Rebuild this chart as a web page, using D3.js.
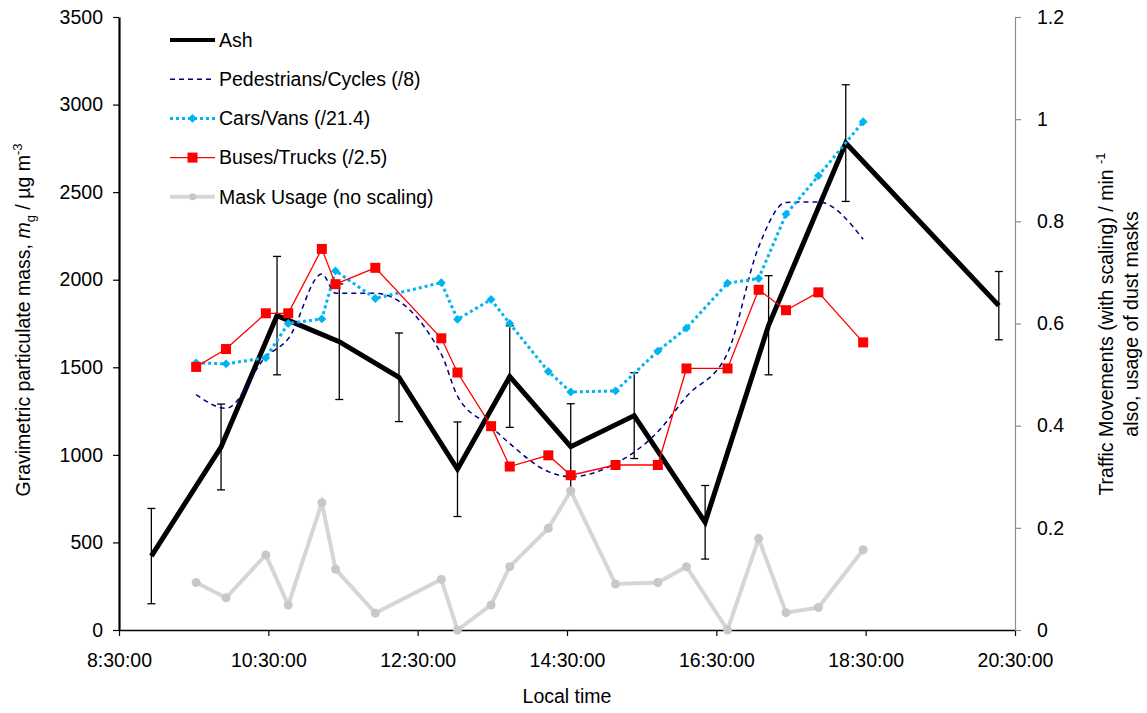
<!DOCTYPE html>
<html>
<head>
<meta charset="utf-8">
<script src="https://cdn.jsdelivr.net/npm/d3@7"></script>
<style>
  html, body { margin: 0; padding: 0; background: #fff; }
  svg { display: block; font-family: "Liberation Sans", Arial, sans-serif; }
</style>
</head>
<body>
<svg id="chart" width="1147" height="713"></svg>
<script>
// Ash sampling times, gravimetric mass (µg m-3) and error half-widths
const ashTimes = ["8:56","9:52","10:37","11:27","12:15","13:02","13:44","14:33","15:24","16:21","17:12","18:14","20:17"];
const ashMass  = [422, 1045, 1795, 1646, 1443, 918, 1447, 1047, 1224, 615, 1740, 2780, 1852];
const ashErr   = [272, 245, 338, 330, 253, 270, 290, 245, 245, 210, 283, 333, 195];

// Traffic count times and scaled movement rates (per minute)
const trafficTimes = ["9:32","9:56","10:28","10:46","11:13","11:24","11:56","12:49","13:02","13:29","13:44",
                      "14:15","14:33","15:09","15:43","16:06","16:39","17:04","17:26","17:52","18:28"];
const pedestrians = [0.461, 0.434, 0.535, 0.570, 0.697, 0.659, 0.659, 0.540, 0.458, 0.398, 0.365,
                     0.310, 0.300, 0.326, 0.388, 0.457, 0.542, 0.750, 0.837, 0.838, 0.765];
const cars        = [0.523, 0.521, 0.533, 0.600, 0.609, 0.703, 0.649, 0.680, 0.608, 0.647, 0.600,
                     0.506, 0.466, 0.468, 0.546, 0.591, 0.679, 0.688, 0.814, 0.889, 0.995];
const buses       = [0.515, 0.550, 0.620, 0.620, 0.746, 0.677, 0.709, 0.571, 0.504, 0.399, 0.320,
                     0.342, 0.303, 0.323, 0.323, 0.512, 0.512, 0.666, 0.626, 0.661, 0.563];
const masks       = [0.093, 0.063, 0.147, 0.049, 0.249, 0.119, 0.033, 0.099, 0.000, 0.049, 0.124,
                     0.199, 0.272, 0.090, 0.093, 0.124, 0.000, 0.179, 0.034, 0.044, 0.157];

// Axis ticks
const timeTicks  = ["8:30","10:30","12:30","14:30","16:30","18:30","20:30"];
const leftTicks  = [0, 500, 1000, 1500, 2000, 2500, 3000, 3500];
const rightTicks = [0, 0.2, 0.4, 0.6, 0.8, 1, 1.2];

const parseT = s => { const [h, m] = s.split(":").map(Number); return new Date(2000, 0, 1, h, m); };

const svg = d3.select("#chart");
const L = 119, R = 1015, T = 17, B = 630;
const FONT = 19.5;

const x  = d3.scaleTime().domain([parseT("8:30"), parseT("20:30")]).range([L, R]);
const yL = d3.scaleLinear().domain([0, 3500]).range([B, T]);
const yR = d3.scaleLinear().domain([0, 1.2]).range([B, T]);

// Axes
const xAxis = d3.axisBottom(x).tickValues(timeTicks.map(parseT))
  .tickFormat(d3.timeFormat("%-H:%M:%S")).tickSize(6).tickSizeOuter(0);
const gx = svg.append("g").attr("transform", `translate(0,${B})`).call(xAxis);
gx.select(".domain").attr("stroke", "#000").attr("stroke-width", 1.5);
gx.selectAll(".tick line").attr("stroke", "#000").attr("stroke-width", 1.2);
gx.selectAll(".tick text").attr("font-size", FONT).attr("fill", "#000").attr("dy", "1.45em")
  .attr("font-family", "Liberation Sans, Arial, sans-serif");

const gl = svg.append("g").attr("transform", `translate(${L},0)`)
  .call(d3.axisLeft(yL).tickValues(leftTicks).tickFormat(d3.format("d")).tickSize(6).tickSizeOuter(0));
gl.select(".domain").attr("stroke", "#000").attr("stroke-width", 2.2);
gl.selectAll(".tick line").attr("stroke", "#000").attr("stroke-width", 1.2);
gl.selectAll(".tick text").attr("font-size", FONT).attr("fill", "#000").attr("x", -16)
  .attr("font-family", "Liberation Sans, Arial, sans-serif");

const gr = svg.append("g").attr("transform", `translate(${R},0)`)
  .call(d3.axisRight(yR).tickValues(rightTicks).tickFormat(d => d3.format("~g")(d)).tickSize(6).tickSizeOuter(0));
gr.select(".domain").attr("stroke", "#8c8c8c").attr("stroke-width", 1.2);
gr.selectAll(".tick line").attr("stroke", "#8c8c8c").attr("stroke-width", 1.2);
gr.selectAll(".tick text").attr("font-size", FONT).attr("fill", "#000").attr("x", 22)
  .attr("font-family", "Liberation Sans, Arial, sans-serif");

// Axis titles
svg.append("text").attr("x", 567).attr("y", 703).attr("text-anchor", "middle")
  .attr("font-size", FONT).text("Local time");

const lt = svg.append("text").attr("transform", "translate(30,320) rotate(-90)")
  .attr("text-anchor", "middle").attr("font-size", FONT);
lt.append("tspan").text("Gravimetric particulate mass, ");
lt.append("tspan").attr("font-style", "italic").text("m");
lt.append("tspan").attr("font-size", 13).attr("dy", 5).text("g");
lt.append("tspan").attr("dy", -5).text(" / µg m");
lt.append("tspan").attr("font-size", 13).attr("dy", -8).text("-3");

const rt1 = svg.append("text").attr("transform", "translate(1113,324) rotate(-90)")
  .attr("text-anchor", "middle").attr("font-size", FONT);
rt1.append("tspan").text("Traffic Movements  (with scaling) / min ");
rt1.append("tspan").attr("font-size", 13).attr("dy", -8).text("-1");
svg.append("text").attr("transform", "translate(1138,324) rotate(-90)")
  .attr("text-anchor", "middle").attr("font-size", FONT).text("also, usage of dust masks");

// Series
const ash = ashTimes.map((t, i) => ({ t: parseT(t), v: ashMass[i], e: ashErr[i] }));
const traffic = arr => trafficTimes.map((t, i) => ({ t: parseT(t), v: arr[i] }));

svg.append("path").datum(ash)
  .attr("fill", "none").attr("stroke", "#000").attr("stroke-width", 5).attr("stroke-linejoin", "miter")
  .attr("d", d3.line().x(d => x(d.t)).y(d => yL(d.v)));

const eb = svg.append("g").attr("stroke", "#000").attr("stroke-width", 1.3);
ash.forEach(d => {
  const cx = x(d.t);
  eb.append("line").attr("x1", cx).attr("x2", cx).attr("y1", yL(d.v - d.e)).attr("y2", yL(d.v + d.e));
  eb.append("line").attr("x1", cx - 4).attr("x2", cx + 4).attr("y1", yL(d.v - d.e)).attr("y2", yL(d.v - d.e));
  eb.append("line").attr("x1", cx - 4).attr("x2", cx + 4).attr("y1", yL(d.v + d.e)).attr("y2", yL(d.v + d.e));
});

// Pedestrians/Cycles: smoothed dashed navy line
svg.append("path").datum(traffic(pedestrians))
  .attr("fill", "none").attr("stroke", "#000080").attr("stroke-width", 1.5).attr("stroke-dasharray", "5,4")
  .attr("d", d3.line().curve(d3.curveMonotoneX).x(d => x(d.t)).y(d => yR(d.v)));

// Cars/Vans: dotted cyan with diamonds
const carData = traffic(cars);
svg.append("path").datum(carData)
  .attr("fill", "none").attr("stroke", "#00b4f0").attr("stroke-width", 3).attr("stroke-dasharray", "3,3")
  .attr("d", d3.line().x(d => x(d.t)).y(d => yR(d.v)));
svg.append("g").selectAll("path").data(carData).join("path")
  .attr("transform", d => `translate(${x(d.t)},${yR(d.v)})`)
  .attr("d", d3.symbol(d3.symbolDiamond2, 50)).attr("fill", "#00b4f0");

// Buses/Trucks: red line with squares
const busData = traffic(buses);
svg.append("path").datum(busData)
  .attr("fill", "none").attr("stroke", "#ff0000").attr("stroke-width", 1.3)
  .attr("d", d3.line().x(d => x(d.t)).y(d => yR(d.v)));
svg.append("g").selectAll("rect").data(busData).join("rect")
  .attr("x", d => x(d.t) - 5).attr("y", d => yR(d.v) - 5).attr("width", 10).attr("height", 10)
  .attr("fill", "#ff0000");

// Mask usage: light grey line with small dots
const maskData = traffic(masks);
svg.append("path").datum(maskData)
  .attr("fill", "none").attr("stroke", "#d6d6d6").attr("stroke-width", 4)
  .attr("d", d3.line().x(d => x(d.t)).y(d => yR(d.v)));
svg.append("g").selectAll("circle").data(maskData).join("circle")
  .attr("cx", d => x(d.t)).attr("cy", d => yR(d.v)).attr("r", 4.5).attr("fill", "#c8c8c8");

// Legend
const legendItems = ["Ash", "Pedestrians/Cycles (/8)", "Cars/Vans (/21.4)", "Buses/Trucks (/2.5)", "Mask Usage (no scaling)"];
const lg = svg.append("g");
legendItems.forEach((name, i) => {
  const y = 40 + i * 39.2;
  const g = lg.append("g").attr("transform", `translate(170,${y})`);
  if (i === 0) g.append("line").attr("x2", 45).attr("stroke", "#000").attr("stroke-width", 4);
  if (i === 1) g.append("line").attr("x2", 45).attr("stroke", "#000080").attr("stroke-width", 1.5).attr("stroke-dasharray", "5,4");
  if (i === 2) {
    g.append("line").attr("x2", 45).attr("stroke", "#00b4f0").attr("stroke-width", 3).attr("stroke-dasharray", "3,3");
    g.append("path").attr("transform", "translate(22.5,0)").attr("d", d3.symbol(d3.symbolDiamond2, 50)).attr("fill", "#00b4f0");
  }
  if (i === 3) {
    g.append("line").attr("x2", 45).attr("stroke", "#ff0000").attr("stroke-width", 1.3);
    g.append("rect").attr("x", 17.5).attr("y", -5).attr("width", 10).attr("height", 10).attr("fill", "#ff0000");
  }
  if (i === 4) {
    g.append("line").attr("x2", 45).attr("stroke", "#d6d6d6").attr("stroke-width", 4);
    g.append("circle").attr("cx", 22.5).attr("r", 3.5).attr("fill", "#c8c8c8");
  }
  g.append("text").attr("x", 49).attr("dy", "0.35em").attr("font-size", FONT).text(name);
});
</script>
</body>
</html>
